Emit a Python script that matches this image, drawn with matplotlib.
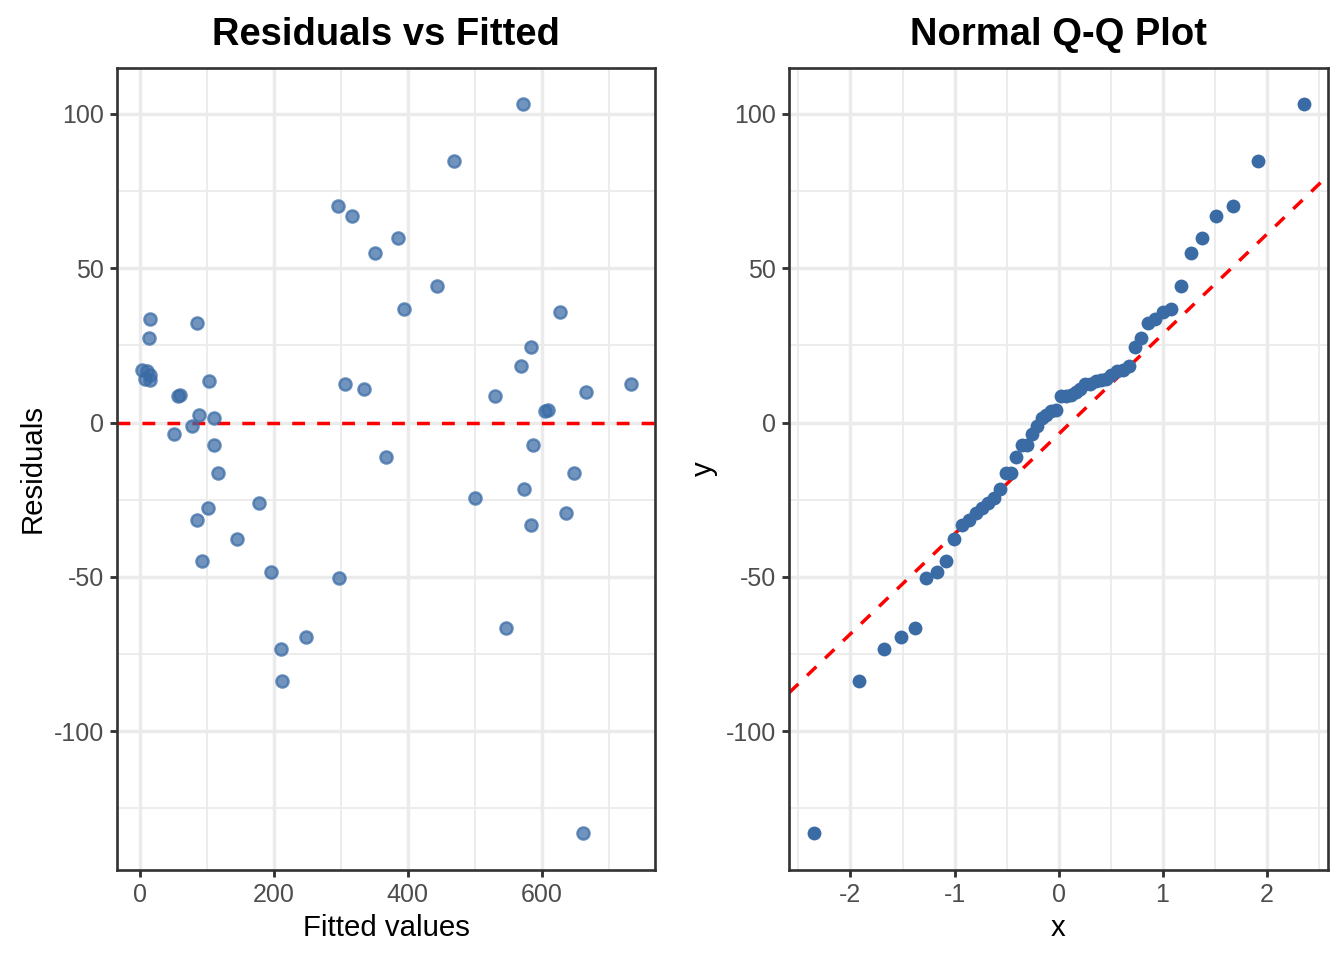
import matplotlib
matplotlib.use("Agg")
import matplotlib.pyplot as plt
import numpy as np
from statistics import NormalDist

# values
fitted = [15, 86, 14, 3, 11, 16, 8, 15, 58, 60, 104, 89, 111, 78, 51, 111, 117,
          178, 102, 86, 146, 94, 196, 249, 211, 298, 212, 547, 662,
          573, 470, 297, 317, 386, 352, 444, 395, 628,
          584, 570, 306, 335, 531, 733, 667, 605, 609, 587, 368, 649, 574, 500, 637, 585]
residuals = [33.6, 32.1, 27.4, 17.0, 16.7, 15.5, 14.2, 13.9, 8.6, 8.8, 13.4, 2.4, 1.5, -1.2, -3.7, -7.3, -16.4,
             -26.0, -27.8, -31.5, -37.8, -45.0, -48.5, -69.6, -73.5, -50.4, -83.7, -66.7, -133.2,
             103.1, 84.9, 70.2, 66.9, 59.9, 55.0, 44.2, 36.8, 35.8,
             24.4, 18.4, 12.5, 10.9, 8.5, 12.4, 9.9, 3.7, 4.2, -7.2, -11.2, -16.4, -21.6, -24.4, -29.4, -33.2]

x_ticks_left = [0, 200, 400, 600]
x_minor_left = [100, 300, 500, 700]
y_ticks = [-100, -50, 0, 50, 100]
y_minor = [-125, -75, -25, 25, 75]
x_ticks_right = [-2, -1, 0, 1, 2]
x_minor_right = [-2.5, -1.5, -0.5, 0.5, 1.5, 2.5]

plt.rcParams['font.family'] = ['Liberation Sans', 'DejaVu Sans']
plt.rcParams['axes.unicode_minus'] = False

point_col = '#3A6BA5'
grid_col = '#EBEBEB'
dark = '#333333'

# Q-Q quantiles (ppoints with a = 0.5)
n = len(residuals)
sample = np.sort(np.array(residuals))
theo = np.array([NormalDist().inv_cdf((i - 0.5) / n) for i in range(1, n + 1)])
q_y = np.percentile(sample, [25, 75])
q_x = np.array([NormalDist().inv_cdf(0.25), NormalDist().inv_cdf(0.75)])
slope = (q_y[1] - q_y[0]) / (q_x[1] - q_x[0])
intercept = q_y[0] - slope * q_x[0]


def expand(v, f=0.05):
    lo, hi = min(v), max(v)
    d = (hi - lo) * f
    return lo - d, hi + d


def style(ax, xt, xm):
    ax.set_facecolor('white')
    ax.set_xticks(xt)
    ax.set_xticks(xm, minor=True)
    ax.set_yticks(y_ticks)
    ax.set_yticks(y_minor, minor=True)
    ax.grid(True, which='major', color=grid_col, linewidth=1.3)
    ax.grid(True, which='minor', color=grid_col, linewidth=0.7)
    ax.set_axisbelow(True)
    for s in ax.spines.values():
        s.set_color(dark)
        s.set_linewidth(1.0)
    ax.tick_params(which='major', length=2.75, width=1.07, color=dark,
                   labelsize=9.4, labelcolor='#4D4D4D', pad=2.2)
    ax.tick_params(which='minor', length=0)


fig = plt.figure(figsize=(7, 5), dpi=192)
ax1 = fig.add_axes([0.0871, 0.0938, 0.4003, 0.8354])
ax2 = fig.add_axes([0.5871, 0.0938, 0.4010, 0.8354])

# Residuals vs Fitted
ax1.scatter(fitted, residuals, s=21, color=point_col, alpha=0.72,
            edgecolors=point_col, linewidths=0.9, zorder=3)
ax1.axhline(0, color='red', linewidth=1.3, linestyle=(0, (3.7, 3.5)), zorder=2)
ax1.set_xlim(expand(fitted))
ax1.set_ylim(expand(residuals))
style(ax1, x_ticks_left, x_minor_left)
ax1.set_title('Residuals vs Fitted', fontsize=14.3, fontweight='bold', pad=8.5)
ax1.set_xlabel('Fitted values', fontsize=11, labelpad=2.75)
ax1.set_ylabel('Residuals', fontsize=11, labelpad=2.75)

# Normal Q-Q
ax2.scatter(theo, sample, s=27, color=point_col, linewidths=0, zorder=3)
ax2.axline((0, intercept), slope=slope, color='red', linewidth=1.3,
           linestyle=(0, (3.7, 3.5)), zorder=2)
ax2.set_xlim(expand(theo))
ax2.set_ylim(expand(residuals))
style(ax2, x_ticks_right, x_minor_right)
ax2.set_title('Normal Q-Q Plot', fontsize=14.3, fontweight='bold', pad=8.5)
ax2.set_xlabel('x', fontsize=11, labelpad=2.75)
ax2.set_ylabel('y', fontsize=11, labelpad=2.75)

fig.savefig('out.png', dpi=192)
